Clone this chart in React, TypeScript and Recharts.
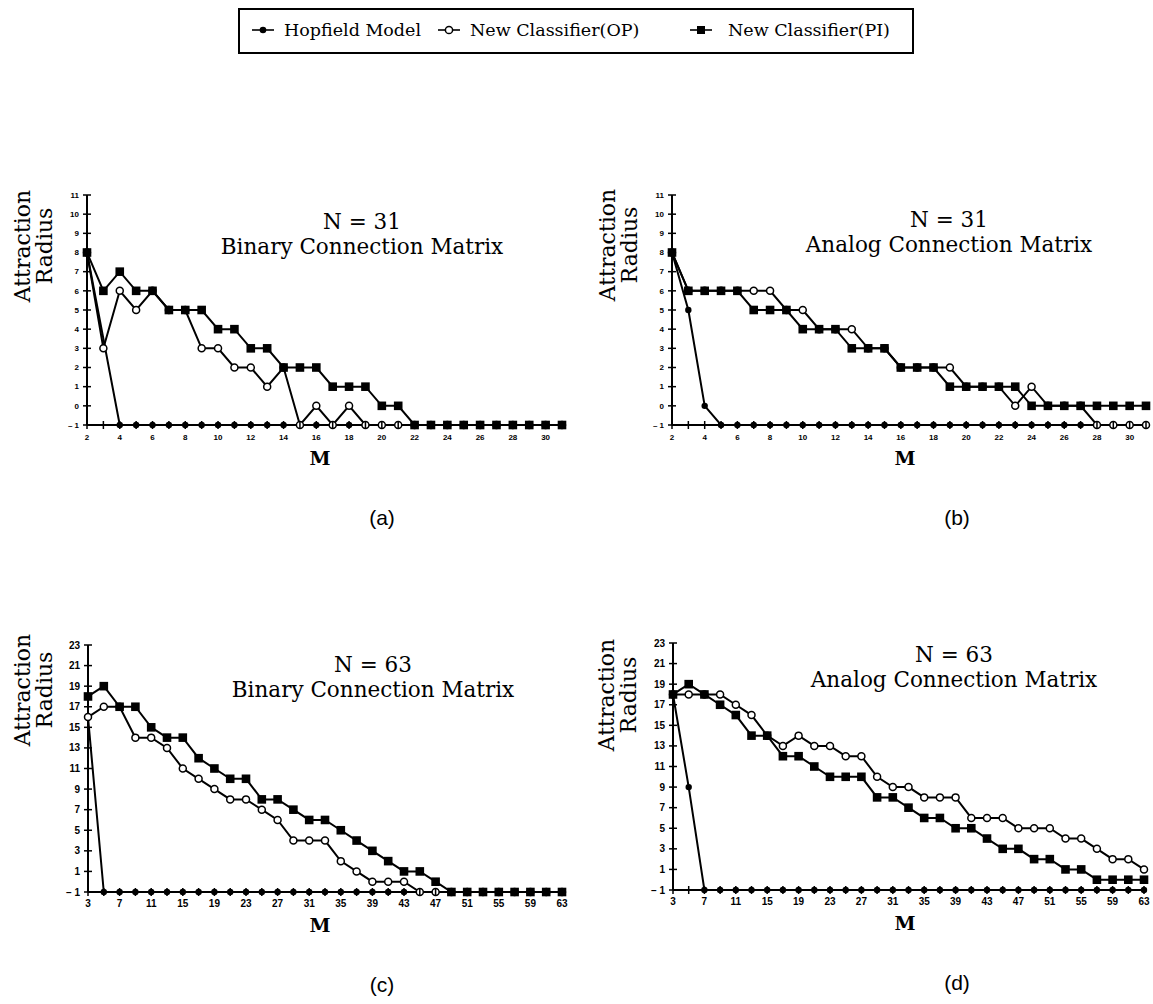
import React from 'react';
import { LineChart, Line, XAxis, YAxis } from 'recharts';

// ---------- data ----------
const mA = [2,3,4,5,6,7,8,9,10,11,12,13,14,15,16,17,18,19,20,21,22,23,24,25,26,27,28,29,30,31];
const xLabelsA = [2,4,6,8,10,12,14,16,18,20,22,24,26,28,30];
const yTicksTop = [-1,0,1,2,3,4,5,6,7,8,9,10,11];

const hopA = [8,null,-1,-1,-1,-1,-1,-1,-1,-1,-1,-1,-1,-1,-1,-1,-1,-1,-1,-1,-1,-1,-1,-1,-1,-1,-1,-1,-1,-1];
const opA  = [8,3,6,5,6,5,5,3,3,2,2,1,2,-1,0,-1,0,-1,-1,-1,-1,-1,-1,-1,-1,-1,-1,-1,-1,-1];
const piA  = [8,6,7,6,6,5,5,5,4,4,3,3,2,2,2,1,1,1,0,0,-1,-1,-1,-1,-1,-1,-1,-1,-1,-1];

const hopB = [8,5,0,-1,-1,-1,-1,-1,-1,-1,-1,-1,-1,-1,-1,-1,-1,-1,-1,-1,-1,-1,-1,-1,-1,-1,-1,-1,-1,-1];
const opB  = [8,6,6,6,6,6,6,5,5,4,4,4,3,3,2,2,2,2,1,1,1,0,1,0,0,0,-1,-1,-1,-1];
const piB  = [8,6,6,6,6,5,5,5,4,4,4,3,3,3,2,2,2,1,1,1,1,1,0,0,0,0,0,0,0,0];

const mC = [3,5,7,9,11,13,15,17,19,21,23,25,27,29,31,33,35,37,39,41,43,45,47,49,51,53,55,57,59,61,63];
const xLabelsC = [3,7,11,15,19,23,27,31,35,39,43,47,51,55,59,63];
const yTicksBottom = [-1,1,3,5,7,9,11,13,15,17,19,21,23];

const hopC = [16,-1,-1,-1,-1,-1,-1,-1,-1,-1,-1,-1,-1,-1,-1,-1,-1,-1,-1,-1,-1,-1,-1,-1,-1,-1,-1,-1,-1,-1,-1];
const opC  = [16,17,17,14,14,13,11,10,9,8,8,7,6,4,4,4,2,1,0,0,0,-1,-1,-1,-1,-1,-1,-1,-1,-1,-1];
const piC  = [18,19,17,17,15,14,14,12,11,10,10,8,8,7,6,6,5,4,3,2,1,1,0,-1,-1,-1,-1,-1,-1,-1,-1];

const hopD = [18,9,-1,-1,-1,-1,-1,-1,-1,-1,-1,-1,-1,-1,-1,-1,-1,-1,-1,-1,-1,-1,-1,-1,-1,-1,-1,-1,-1,-1,-1];
const opD  = [18,18,18,18,17,16,14,13,14,13,13,12,12,10,9,9,8,8,8,6,6,6,5,5,5,4,4,3,2,2,1];
const piD  = [18,19,18,17,16,14,14,12,12,11,10,10,10,8,8,7,6,6,5,5,4,3,3,2,2,1,1,0,0,0,0];

const seriesNames = ['Hopfield Model', 'New Classifier(OP)', 'New Classifier(PI)'];

const buildRows = (ms: number[], h: (number | null)[], o: number[], p: number[]) =>
  ms.map((m, i) => ({ m, hop: h[i], op: o[i], pi: p[i] }));

// ---------- styles ----------
const SERIF = '"DejaVu Serif", "Liberation Serif", serif';
const SANS = '"Liberation Sans", Arial, sans-serif';

const HopDot = (props: any) => {
  const { cx, cy, index } = props;
  if (cx == null || cy == null || props.value == null) return <g key={'h' + index} />;
  return <circle key={'h' + index} cx={cx} cy={cy} r={3.2} fill="#000" />;
};
const OpDot = (props: any) => {
  const { cx, cy, index } = props;
  if (cx == null || cy == null) return <g key={'o' + index} />;
  return <circle key={'o' + index} cx={cx} cy={cy} r={3.5} fill="#fff" stroke="#000" strokeWidth={1.5} />;
};
const PiDot = (props: any) => {
  const { cx, cy, index } = props;
  if (cx == null || cy == null) return <g key={'p' + index} />;
  return <rect key={'p' + index} x={cx - 4.3} y={cy - 4.3} width={8.6} height={8.6} fill="#000" />;
};

type PanelProps = {
  rows: any[];
  plot: { l: number; t: number; r: number; b: number };
  xDomain: [number, number];
  xTicks: number[];
  xLabels: number[];
  yDomain: [number, number];
  yTicks: number[];
  fs: number;
};

function Panel({ rows, plot, xDomain, xTicks, xLabels, yDomain, yTicks, fs }: PanelProps) {
  const padL = 60, padT = 10, padR = 14, padB = 40;
  const width = plot.r - plot.l + padL + padR;
  const height = plot.b - plot.t + padT + padB;
  const XTick = (p: any) => {
    const v = p.payload.value;
    return (
      <g>
        <line x1={p.x} x2={p.x} y1={p.y - 4} y2={p.y + 4} stroke="#000" strokeWidth={1.5} />
        {xLabels.includes(v) ? (
          <text x={p.x} y={p.y + 15} textAnchor="middle" fontSize={fs} fontWeight="bold" fontFamily={SANS} fill="#000">
            {v}
          </text>
        ) : null}
      </g>
    );
  };
  const YTick = (p: any) => {
    const v = p.payload.value;
    return (
      <g>
        <line x1={p.x - 4} x2={p.x + 4} y1={p.y} y2={p.y} stroke="#000" strokeWidth={1.5} />
        <text x={p.x - 8} y={p.y} dy="0.35em" textAnchor="end" fontSize={fs} fontWeight="bold" fontFamily={SANS} fill="#000">
          {v === -1 ? '\u2013 1' : v}
        </text>
      </g>
    );
  };
  return (
    <div style={{ position: 'absolute', left: plot.l - padL, top: plot.t - padT }}>
      <LineChart width={width} height={height} data={rows} margin={{ top: padT, right: padR, bottom: padB - 30, left: padL - 40 }}>
        <XAxis
          dataKey="m"
          type="number"
          domain={xDomain}
          ticks={xTicks}
          interval={0}
          height={30}
          tickSize={0}
          tickMargin={0}
          tickLine={false}
          axisLine={{ stroke: '#000', strokeWidth: 2 }}
          tick={XTick}
        />
        <YAxis
          type="number"
          domain={yDomain}
          ticks={yTicks}
          interval={0}
          width={40}
          tickSize={0}
          tickMargin={0}
          tickLine={false}
          axisLine={{ stroke: '#000', strokeWidth: 2 }}
          tick={YTick}
        />
        <Line type="linear" dataKey="hop" name={seriesNames[0]} stroke="#000" strokeWidth={2} dot={HopDot} activeDot={false} connectNulls isAnimationActive={false} />
        <Line type="linear" dataKey="op" name={seriesNames[1]} stroke="#000" strokeWidth={2} dot={OpDot} activeDot={false} isAnimationActive={false} />
        <Line type="linear" dataKey="pi" name={seriesNames[2]} stroke="#000" strokeWidth={2} dot={PiDot} activeDot={false} isAnimationActive={false} />
      </LineChart>
    </div>
  );
}

const Txt = ({ x, y, children, style }: any) => (
  <div style={{ position: 'absolute', left: x, top: y, transform: 'translate(-50%, -50%)', whiteSpace: 'nowrap', color: '#000', ...style }}>
    {children}
  </div>
);

const Title = ({ x, y, n, kind }: any) => (
  <div style={{ position: 'absolute', left: x, top: y, transform: 'translate(-50%, 0)', textAlign: 'center', fontFamily: SERIF, fontSize: 21.5, lineHeight: '25px', whiteSpace: 'nowrap', color: '#000' }}>
    <div>N = {n}</div>
    <div>{kind} Connection Matrix</div>
  </div>
);

const YLab = ({ x, y }: any) => (
  <div style={{ position: 'absolute', left: x, top: y, transform: 'translate(-50%, -50%) rotate(-90deg)', textAlign: 'center', fontFamily: SERIF, fontSize: 22, lineHeight: '22px', whiteSpace: 'nowrap', color: '#000' }}>
    <div>Attraction</div>
    <div>Radius</div>
  </div>
);

const LegendSym = ({ kind }: { kind: number }) => (
  <svg width={26} height={14} style={{ display: 'inline-block', verticalAlign: 'middle' }}>
    <line x1={2} x2={24} y1={7} y2={7} stroke="#000" strokeWidth={1.6} />
    {kind === 0 && <circle cx={13} cy={7} r={3.3} fill="#000" />}
    {kind === 1 && <circle cx={13} cy={7} r={3.6} fill="#fff" stroke="#000" strokeWidth={1.5} />}
    {kind === 2 && <rect x={9} y={3} width={8} height={8} fill="#000" />}
  </svg>
);

export default function App() {
  const rowsA = buildRows(mA, hopA, opA, piA);
  const rowsB = buildRows(mA, hopB, opB, piB);
  const rowsC = buildRows(mC, hopC, opC, piC);
  const rowsD = buildRows(mC, hopD, opD, piD);
  const legendX = [250, 436, 688];
  return (
    <div style={{ position: 'absolute', left: 0, top: 0, width: 1153, height: 1004, background: '#fff', overflow: 'hidden' }}>
      {/* legend */}
      <div style={{ position: 'absolute', left: 238, top: 8, width: 672, height: 42, border: '2px solid #000' }} />
      {seriesNames.map((s, i) => (
        <div key={s} style={{ position: 'absolute', left: legendX[i], top: 30, transform: 'translateY(-50%)', display: 'flex', alignItems: 'center', fontFamily: SERIF, fontSize: 17.5, whiteSpace: 'nowrap' }}>
          <LegendSym kind={i} />
          <span style={{ marginLeft: i === 2 ? 14 : 8 }}>{s}</span>
        </div>
      ))}

      <Panel rows={rowsA} plot={{ l: 87, t: 195, r: 562, b: 425 }} xDomain={[2, 31]} xTicks={mA} xLabels={xLabelsA} yDomain={[-1, 11]} yTicks={yTicksTop} fs={8} />
      <Panel rows={rowsB} plot={{ l: 672, t: 195, r: 1146, b: 425 }} xDomain={[2, 31]} xTicks={mA} xLabels={xLabelsA} yDomain={[-1, 11]} yTicks={yTicksTop} fs={8} />
      <Panel rows={rowsC} plot={{ l: 88, t: 645, r: 562, b: 892 }} xDomain={[3, 63]} xTicks={mC} xLabels={xLabelsC} yDomain={[-1, 23]} yTicks={yTicksBottom} fs={10} />
      <Panel rows={rowsD} plot={{ l: 673, t: 643, r: 1144, b: 890 }} xDomain={[3, 63]} xTicks={mC} xLabels={xLabelsC} yDomain={[-1, 23]} yTicks={yTicksBottom} fs={10} />

      <Title x={362} y={209} n={31} kind="Binary" />
      <Title x={949} y={207} n={31} kind="Analog" />
      <Title x={373} y={652} n={63} kind="Binary" />
      <Title x={954} y={642} n={63} kind="Analog" />

      <YLab x={34} y={246} />
      <YLab x={619} y={245} />
      <YLab x={34} y={690} />
      <YLab x={618} y={695} />

      <Txt x={320} y={458} style={{ fontFamily: SERIF, fontWeight: 'bold', fontSize: 19 }}>M</Txt>
      <Txt x={905} y={458} style={{ fontFamily: SERIF, fontWeight: 'bold', fontSize: 19 }}>M</Txt>
      <Txt x={320} y={925} style={{ fontFamily: SERIF, fontWeight: 'bold', fontSize: 19 }}>M</Txt>
      <Txt x={905} y={923} style={{ fontFamily: SERIF, fontWeight: 'bold', fontSize: 19 }}>M</Txt>

      <Txt x={382} y={518} style={{ fontFamily: SANS, fontSize: 21 }}>(a)</Txt>
      <Txt x={957} y={518} style={{ fontFamily: SANS, fontSize: 21 }}>(b)</Txt>
      <Txt x={382} y={985} style={{ fontFamily: SANS, fontSize: 21 }}>(c)</Txt>
      <Txt x={957} y={983} style={{ fontFamily: SANS, fontSize: 21 }}>(d)</Txt>
    </div>
  );
}
